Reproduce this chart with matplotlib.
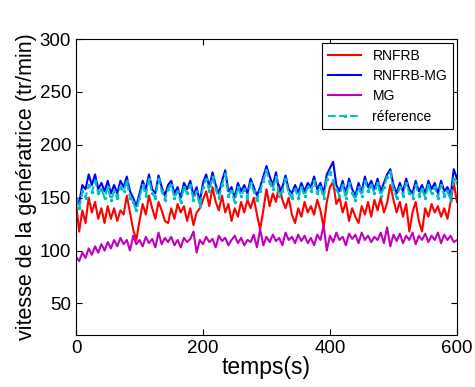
import numpy as np
import matplotlib
matplotlib.use("Agg")
import matplotlib.pyplot as plt

plt.rcParams['font.family'] = ['Liberation Sans', 'DejaVu Sans']

# temps (s), pas de 5 s
temps = np.arange(0, 601, 5)

reference = [
    150, 140, 156, 150, 162, 155, 166, 154, 158, 150,
    160, 148, 156, 150, 160, 156, 166, 150, 146, 138,
    150, 162, 152, 168, 154, 150, 168, 156, 148, 158,
    162, 150, 156, 146, 160, 154, 162, 148, 156, 142,
    160, 168, 156, 170, 158, 150, 162, 172, 152, 156,
    146, 160, 152, 158, 150, 164, 156, 148, 156, 166,
    176, 164, 158, 170, 152, 156, 168, 154, 150, 158,
    150, 160, 152, 160, 156, 166, 154, 160, 150, 168,
    174, 166, 158, 152, 162, 150, 164, 154, 148, 160,
    152, 166, 156, 162, 154, 164, 152, 160, 170, 174,
    158, 150, 160, 152, 164, 154, 150, 162, 152, 158,
    150, 162, 154, 160, 150, 162, 152, 156, 148, 168,
    164]

rnfrb_mg = [
    148, 145, 162, 158, 172, 162, 172, 158, 164, 156,
    166, 154, 162, 154, 166, 160, 170, 156, 150, 142,
    154, 166, 158, 172, 158, 154, 171, 160, 152, 162,
    166, 154, 160, 150, 164, 158, 166, 152, 160, 146,
    164, 172, 160, 174, 162, 154, 166, 176, 156, 160,
    150, 164, 156, 162, 154, 168, 160, 152, 160, 170,
    180, 170, 162, 174, 156, 160, 171, 158, 154, 162,
    155, 164, 156, 164, 160, 170, 158, 164, 154, 172,
    178, 184, 162, 156, 166, 154, 168, 158, 152, 164,
    156, 170, 160, 166, 158, 168, 156, 164, 172, 177,
    162, 154, 164, 156, 168, 158, 154, 166, 156, 162,
    154, 166, 158, 164, 154, 166, 156, 160, 152, 177,
    168]

rnfrb = [
    145, 118, 138, 126, 150, 136, 146, 130, 140, 126,
    142, 130, 140, 128, 138, 134, 152, 136, 120, 110,
    128, 144, 134, 152, 140, 130, 146, 138, 128, 126,
    140, 130, 144, 136, 142, 128, 140, 124, 136, 140,
    148, 156, 142, 160, 146, 138, 152, 136, 144, 128,
    140, 132, 146, 136, 148, 140, 150, 134, 120, 138,
    158, 142, 154, 146, 162, 148, 140, 150, 134, 126,
    140, 132, 146, 136, 142, 134, 148, 138, 122, 146,
    160, 165, 144, 150, 136, 146, 128, 140, 132, 126,
    142, 134, 146, 132, 148, 138, 150, 136, 145, 162,
    148, 136, 146, 132, 144, 118, 136, 146, 128, 118,
    140, 132, 144, 136, 142, 132, 140, 130, 146, 164,
    146]

mg = [
    94, 90, 98, 93, 102, 96, 104, 98, 106, 100,
    108, 102, 110, 104, 112, 106, 110, 100, 114, 106,
    110, 104, 113, 107, 111, 103, 117, 106, 112, 108,
    113, 105, 110, 103, 112, 108, 111, 118, 98, 110,
    106, 113, 108, 111, 103, 114, 109, 112, 105, 110,
    114, 107, 112, 105, 110, 108, 115, 103, 120, 105,
    113, 108, 115, 109, 112, 105, 117, 110, 113, 107,
    115, 109, 114, 107, 112, 105, 115, 110, 124, 100,
    114, 108, 117, 110, 113, 105, 116, 111, 115, 107,
    117, 110, 114, 108, 113, 110, 117, 107, 122, 104,
    115, 109, 116, 107, 114, 110, 117, 106, 114, 110,
    116, 108, 114, 110, 117, 107, 115, 110, 114, 108,
    110]

fig = plt.figure(figsize=(4.75, 3.87), dpi=100)
ax = fig.add_axes([0.16, 0.134, 0.802, 0.765])

ax.plot(temps, rnfrb, color='#FF0000', lw=1.5, label='RNFRB')
ax.plot(temps, rnfrb_mg, color='#0000FF', lw=1.5, label='RNFRB-MG')
ax.plot(temps, mg, color='#BF00BF', lw=1.5, label='MG')
ax.plot(temps, reference, color='#00BFBF', lw=1.5, ls='--', marker='.',
        markersize=3, label='réference')

ax.set_xlim(0, 600)
ax.set_ylim(20, 300)
ax.set_xticks([0, 200, 400, 600])
ax.set_yticks([50, 100, 150, 200, 250, 300])
ax.tick_params(direction='in', top=True, right=True, length=4, labelsize=13.5)
ax.set_xlabel('temps(s)', fontsize=16.5, labelpad=-1)
ax.set_ylabel('vitesse de la génératrice (tr/min)', fontsize=15.5, labelpad=2)

leg = ax.legend(loc='upper right', fontsize=10, numpoints=1, fancybox=False,
                framealpha=1, edgecolor='black', borderaxespad=0.3,
                handlelength=2.4, labelspacing=0.45)
leg.get_frame().set_linewidth(0.8)

fig.savefig('out.png', dpi=100)
